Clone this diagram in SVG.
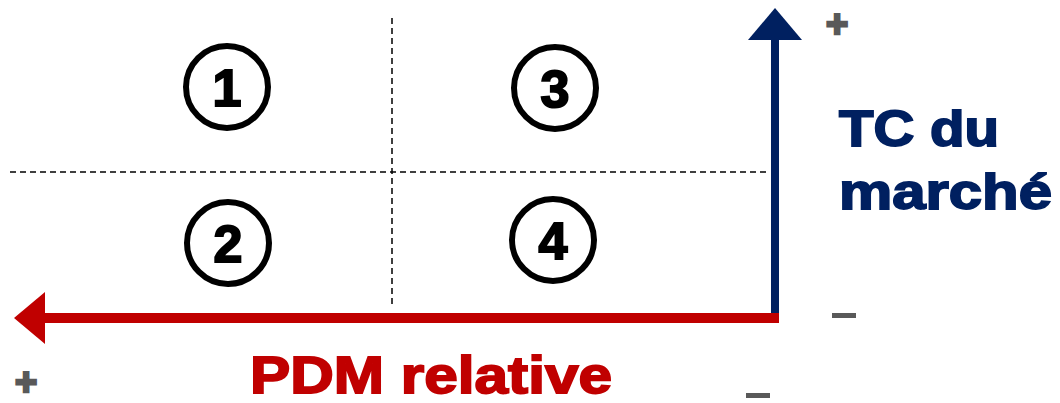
<svg xmlns="http://www.w3.org/2000/svg" width="1060" height="403" viewBox="0 0 1060 403">
<style>
.dash{stroke:#000;stroke-width:1.5;stroke-dasharray:6 4;fill:none}
.circ{fill:#fff;stroke:#000;stroke-width:6}
.num{font-family:"Liberation Sans",Arial,sans-serif;font-weight:bold;font-size:52px;text-anchor:middle;fill:#000;stroke:#000;stroke-width:2}
.sign{font-family:"Liberation Sans",Arial,sans-serif;font-weight:bold;fill:#595959;stroke:#595959;stroke-width:2.5}
.lbl{font-family:"Liberation Sans",Arial,sans-serif;font-weight:bold;stroke-width:1.8}
</style>
<rect width="1060" height="403" fill="#fff"/>
<g id="grid">
<line class="dash" x1="392" y1="18" x2="392" y2="306"/>
<line class="dash" x1="10" y1="172" x2="770" y2="172"/>
</g>
<g id="node1"><circle class="circ" cx="227" cy="87" r="41"/><text class="num" x="227" y="106">1</text></g>
<g id="node3"><circle class="circ" cx="555" cy="88" r="41"/><text class="num" x="555" y="107">3</text></g>
<g id="node2"><circle class="circ" cx="228" cy="243" r="41"/><text class="num" x="228" y="262">2</text></g>
<g id="node4"><circle class="circ" cx="553" cy="240" r="41"/><text class="num" x="553" y="259">4</text></g>
<g id="connectors">
<line x1="775" y1="321" x2="775" y2="38" stroke="#002060" stroke-width="8"/>
<polygon points="775,8 802,40 748,40" fill="#002060"/>
<line x1="779" y1="318" x2="40" y2="318" stroke="#C00000" stroke-width="10"/>
<polygon points="14,318 45,292 45,344" fill="#C00000"/>
</g>
<g id="labels">
<text class="lbl" x="839" y="146" font-size="50" fill="#002060" stroke="#002060" textLength="160" lengthAdjust="spacingAndGlyphs">TC du</text>
<text class="lbl" x="839" y="209" font-size="50" fill="#002060" stroke="#002060" textLength="213" lengthAdjust="spacingAndGlyphs">marché</text>
<text class="lbl" x="250" y="393" font-size="52" fill="#C00000" stroke="#C00000" textLength="362" lengthAdjust="spacingAndGlyphs">PDM relative</text>
<text class="sign" x="837" y="37" font-size="38" text-anchor="middle">+</text>
<text class="sign" x="26" y="395" font-size="38" text-anchor="middle">+</text>
<rect x="832" y="313" width="24" height="5" fill="#595959"/>
<rect x="746" y="393" width="24" height="5" fill="#595959"/>
</g>
</svg>
